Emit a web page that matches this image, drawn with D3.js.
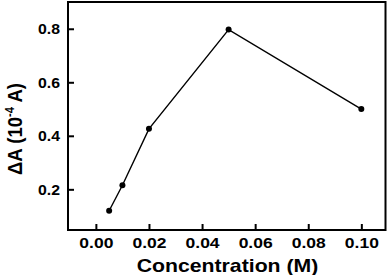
<!DOCTYPE html>
<html><head><meta charset="utf-8">
<script src="https://cdn.jsdelivr.net/npm/d3@7"></script>
<style>body{margin:0;background:#fff}svg{display:block}text{font-family:"Liberation Sans",Arial,sans-serif;font-weight:bold}</style>
</head><body><svg id="c" width="391" height="275"></svg>
<script>
const concentration=[0.005,0.01,0.02,0.05,0.1];
const deltaA=[0.12,0.215,0.426,0.797,0.50];
const xTicks=[0,0.02,0.04,0.06,0.08,0.10];
const yTicks=[0.2,0.4,0.6,0.8];

const svg=d3.select("#c");
const L=68,R=385.5,T=2,B=230;
const x=d3.scaleLinear().domain([-0.0105,0.1091]).range([L,R]);
const y=d3.scaleLinear().domain([0.048,0.9]).range([B,T]);

const xa=svg.append("g").attr("transform",`translate(0,${B})`)
 .call(d3.axisBottom(x).tickValues(xTicks).tickFormat(d3.format(".2f")).tickSizeInner(-6).tickSizeOuter(0).tickPadding(0));
const ya=svg.append("g").attr("transform",`translate(${L},0)`)
 .call(d3.axisLeft(y).tickValues(yTicks).tickFormat(d3.format(".1f")).tickSizeInner(-6).tickSizeOuter(0).tickPadding(8));
[xa,ya].forEach(g=>{g.select(".domain").remove();g.selectAll("line").attr("stroke","#000").attr("stroke-width",2);
 g.selectAll("text").attr("font-size",14).attr("fill","#000").attr("lengthAdjust","spacingAndGlyphs");});
xa.selectAll("text").attr("dy",null).attr("y",18.3).attr("textLength",34);
ya.selectAll("text").attr("textLength",22).attr("dy","0.36em");

svg.append("rect").attr("x",L).attr("y",T).attr("width",R-L).attr("height",B-T)
 .attr("fill","none").attr("stroke","#000").attr("stroke-width",2);

const pts=concentration.map((c,i)=>[c,deltaA[i]]);
svg.append("path").datum(pts).attr("fill","none").attr("stroke","#000").attr("stroke-width",1.4)
 .attr("d",d3.line().x(d=>x(d[0])).y(d=>y(d[1])));
svg.selectAll("circle").data(pts).join("circle").attr("cx",d=>x(d[0])).attr("cy",d=>y(d[1])).attr("r",3).attr("fill","#000");

svg.append("text").attr("x",136.7).attr("y",271.5).attr("font-size",18.5)
 .attr("textLength",181.6).attr("lengthAdjust","spacingAndGlyphs").text("Concentration (M)");
const yt=svg.append("text").attr("transform",`translate(22,175) rotate(-90)`).attr("font-size",20)
 .attr("textLength",92).attr("lengthAdjust","spacingAndGlyphs");
yt.append("tspan").text("ΔA (10");
yt.append("tspan").attr("font-size",12).attr("dy",-8).text("-4");
yt.append("tspan").attr("dy",8).text(" A)");
</script></body></html>
